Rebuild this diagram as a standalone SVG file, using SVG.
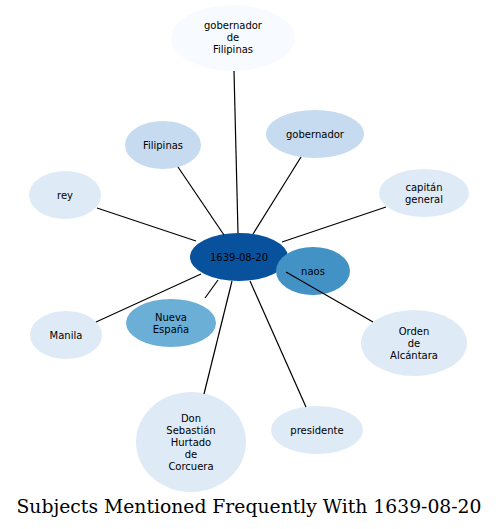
<svg xmlns="http://www.w3.org/2000/svg" width="499" height="529" viewBox="0 0 499 529">
<style>
.n text{font-family:"DejaVu Sans",sans-serif;font-size:10px;text-anchor:middle;fill:#000}
.e line{stroke:#000;stroke-width:1.2}
.c1{fill:#f7fbff}.c2{fill:#deebf7}.c3{fill:#c6dbef}.c5{fill:#6baed6}.c6{fill:#4292c6}.c9{fill:#08519c}
.title{font-family:"DejaVu Serif",serif;font-size:18.5px;text-anchor:middle;fill:#000}
</style>
<rect width="499" height="529" fill="#fff"/>
<g id="n_gdf" class="n"><ellipse class="c1" cx="233" cy="38" rx="62" ry="33"/><text x="233" y="29">gobernador</text><text x="233" y="41">de</text><text x="233" y="53">Filipinas</text></g>
<g id="n_filipinas" class="n"><ellipse class="c3" cx="163" cy="145" rx="38" ry="24"/><text x="163" y="149">Filipinas</text></g>
<g id="n_gobernador" class="n"><ellipse class="c3" cx="315" cy="134" rx="49" ry="24"/><text x="315" y="138">gobernador</text></g>
<g id="n_rey" class="n"><ellipse class="c2" cx="65" cy="195" rx="36" ry="24"/><text x="65" y="199">rey</text></g>
<g id="n_capitan" class="n"><ellipse class="c2" cx="424" cy="193" rx="45" ry="24"/><text x="424" y="191">capitán</text><text x="424" y="203">general</text></g>
<g id="n_center" class="n"><ellipse class="c9" cx="239" cy="257" rx="49" ry="24"/><text x="239" y="261">1639-08-20</text></g>
<g id="n_naos" class="n"><ellipse class="c6" cx="313" cy="271" rx="37" ry="24"/><text x="313" y="275">naos</text></g>
<g id="n_nueva" class="n"><ellipse class="c5" cx="171" cy="323" rx="45" ry="24"/><text x="171" y="321">Nueva</text><text x="171" y="333">España</text></g>
<g id="n_manila" class="n"><ellipse class="c2" cx="66" cy="335" rx="36" ry="24"/><text x="66" y="339">Manila</text></g>
<g id="n_orden" class="n"><ellipse class="c2" cx="414" cy="343" rx="53" ry="33"/><text x="414" y="335">Orden</text><text x="414" y="347">de</text><text x="414" y="359">Alcántara</text></g>
<g id="n_don" class="n"><ellipse class="c2" cx="191" cy="442" rx="55" ry="50"/><text x="191" y="422">Don</text><text x="191" y="434">Sebastián</text><text x="191" y="446">Hurtado</text><text x="191" y="458">de</text><text x="191" y="470">Corcuera</text></g>
<g id="n_presidente" class="n"><ellipse class="c2" cx="317" cy="430" rx="46" ry="24"/><text x="317" y="434">presidente</text></g>
<g id="edges" class="e">
<line x1="238" y1="233" x2="234" y2="71"/>
<line x1="224" y1="235" x2="178" y2="167"/>
<line x1="253" y1="234" x2="301" y2="157"/>
<line x1="196" y1="241" x2="97" y2="208"/>
<line x1="282" y1="242" x2="386" y2="207"/>
<line x1="286" y1="272" x2="373" y2="322"/>
<line x1="218" y1="280" x2="205" y2="298"/>
<line x1="201" y1="274" x2="96" y2="322"/>
<line x1="232" y1="281" x2="204" y2="394"/>
<line x1="250" y1="281" x2="306" y2="407"/>
</g>
<text class="title" x="249" y="513" textLength="465" lengthAdjust="spacingAndGlyphs">Subjects Mentioned Frequently With 1639-08-20</text>
</svg>
